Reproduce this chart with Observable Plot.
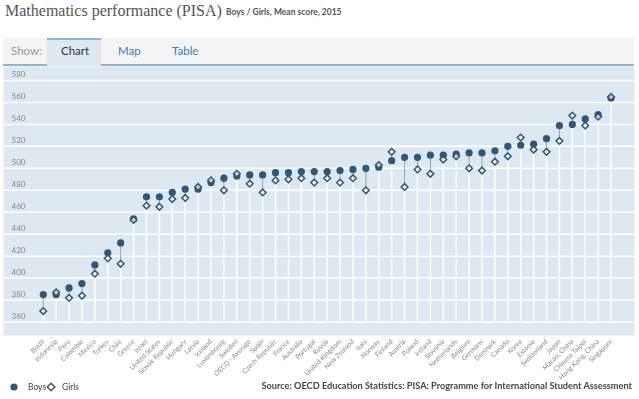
<!DOCTYPE html>
<html>
<head>
<meta charset="utf-8">
<script src="https://cdn.jsdelivr.net/npm/d3@7"></script>
<script src="https://cdn.jsdelivr.net/npm/@observablehq/plot@0.6"></script>
<style>
  html, body { margin: 0; padding: 0; background: #fff; width: 639px; height: 399px; overflow: hidden; }
  body { position: relative; font-family: Lato, "Open Sans", sans-serif; }
  .abs { position: absolute; white-space: nowrap; }
  #title { left: 5px; top: 2px; font-family: "Liberation Serif", serif; font-size: 16px; color: #555; }
  #subtitle { left: 226px; top: 7px; font-size: 8.5px; font-weight: bold; color: #555; }
  #tabbar { left: 3px; top: 38px; width: 631px; height: 26px; background: #f4f4f4; border-bottom: 2px solid #8db6d3; }
  #tabsel { left: 47px; top: 38px; width: 54px; height: 28px; background: #dee8f0; border-top: 2px solid #8db6d3; box-sizing: border-box; }
  .tab { font-size: 11.5px; top: 44px; }
  #chart { left: 0; top: 66px; will-change: transform; }
  #legend { left: 8px; top: 380px; font-size: 8.5px; color: #444; }
  #source { right: 7px; top: 380px; font-size: 9.2px; font-weight: bold; color: #444; }
</style>
</head>
<body>
<div id="title" class="abs">Mathematics performance (PISA)</div>
<div id="subtitle" class="abs">Boys / Girls, Mean score, 2015</div>
<div id="tabbar" class="abs"></div>
<div id="tabsel" class="abs"></div>
<div class="abs tab" style="left:11px;color:#999;">Show:</div>
<div class="abs tab" style="left:61px;color:#333;">Chart</div>
<div class="abs tab" style="left:118px;color:#3b7db3;">Map</div>
<div class="abs tab" style="left:172px;color:#3b7db3;">Table</div>
<div id="chart" class="abs"></div>
<div id="legend" class="abs"></div>
<div id="source" class="abs">Source: OECD Education Statistics: PISA: Programme for International Student Assessment</div>
<script>
const countries = ["Brazil","Indonesia","Peru","Colombia","Mexico","Turkey","Chile","Greece","Israel","United States","Slovak Republic","Hungary","Latvia","Iceland","Luxembourg","Sweden","OECD - Average","Spain","Czech Republic","France","Australia","Portugal","Russia","United Kingdom","New Zealand","Italy","Norway","Finland","Austria","Poland","Ireland","Slovenia","Netherlands","Belgium","Germany","Denmark","Canada","Korea","Estonia","Switzerland","Japan","Macao, China","Chinese Taipei","Hong Kong, China","Singapore"];
const boys  = [385,385,391,395,412,423,432,454,474,474,478,481,481,487,491,493,494,494,496,496,497,497,497,498,499,500,501,507,510,510,512,512,513,514,514,516,520,521,522,527,539,540,545,549,564];
const girls = [370,387,382,384,404,418,413,453,466,465,472,473,483,489,480,495,486,478,489,490,491,487,491,487,491,480,503,515,483,499,495,508,511,500,498,506,511,528,517,515,525,548,539,547,565];
const yTicks = [360,380,400,420,440,460,480,500,520,540,560,580];
const seriesNames = ["Boys","Girls"];

const data = countries.map((c, i) => ({country: c, boys: boys[i], girls: girls[i]}));
const dark = "#2d5878";
const yMin = d3.min(yTicks);

const chart = Plot.plot({
  width: 639,
  height: 320,
  marginLeft: 3,
  marginRight: 5,
  marginTop: 0,
  marginBottom: 51,
  style: {fontFamily: "Lato, 'Open Sans', sans-serif", background: "transparent"},
  x: {type: "point", domain: countries, range: [36.3, 617], label: null},
  y: {domain: [347.7, 592.75], label: null},
  marks: [
    Plot.frame({fill: "#dee8f0", stroke: null}),
    Plot.gridY(yTicks, {stroke: "#fff", strokeOpacity: 1, strokeWidth: 1.5}),
    Plot.axisY(yTicks, {anchor: "left", tickSize: 0, tickPadding: 0, textAnchor: "start", dx: 8, dy: -6, fill: "#888", fontSize: 8, label: null}),
    Plot.ruleX(data, {x: "country", y1: () => yMin, y2: d => Math.min(d.boys, d.girls), stroke: "#fff", strokeWidth: 1.5}),
    Plot.ruleX(data, {x: "country", y1: "boys", y2: "girls", stroke: "#9aa6b0", strokeWidth: 1}),
    Plot.dot(data, {x: "country", y: "boys", r: 3.6, fill: dark, stroke: null}),
    Plot.dot(data, {x: "country", y: "girls", symbol: "diamond2", r: 3, fill: "#fff", fillOpacity: 0.7, stroke: dark, strokeWidth: 1.5}),
    Plot.axisX({tickRotate: -45, tickSize: 0, tickPadding: 5, fill: "#888", fontSize: 6.8, label: null})
  ]
});
document.getElementById("chart").appendChild(chart);

// legend
const leg = document.getElementById("legend");
leg.innerHTML = `
<svg width="90" height="14" style="vertical-align:middle">
  <circle cx="6" cy="7" r="3.6" fill="${dark}"/>
  <text x="20" y="10" font-size="8.5" fill="#444">${seriesNames[0]}</text>
  <path d="M43,3.2 L46.8,7 L43,10.8 L39.2,7 Z" fill="#fff" stroke="${dark}" stroke-width="1.5"/>
  <text x="54" y="10" font-size="8.5" fill="#444">${seriesNames[1]}</text>
</svg>`;
</script>
</body>
</html>
